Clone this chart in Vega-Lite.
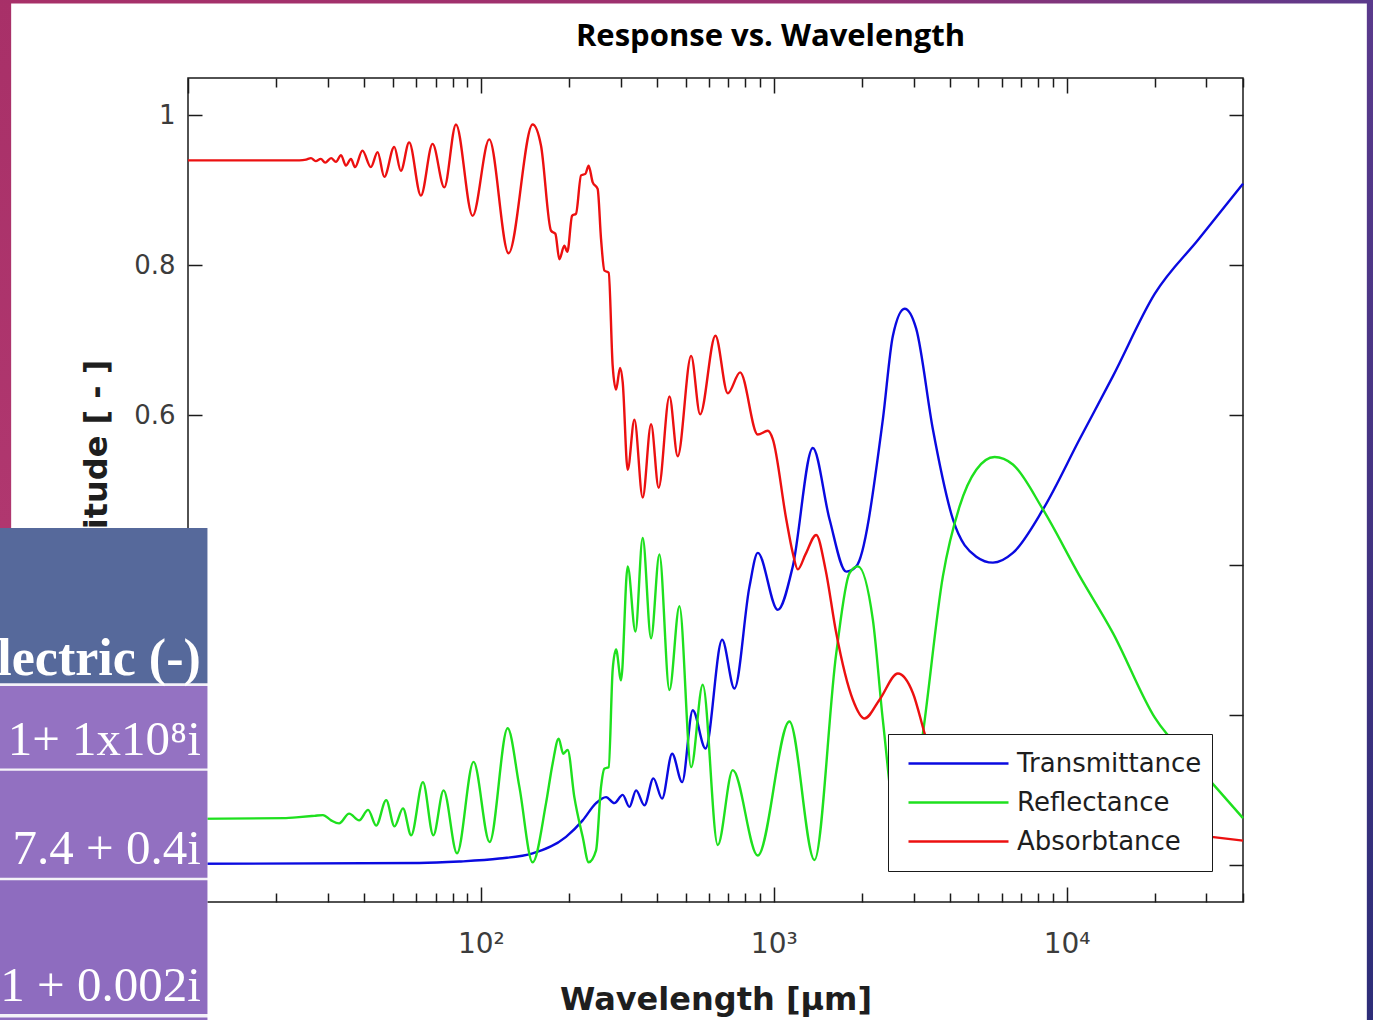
{
  "$schema": "https://vega.github.io/schema/vega-lite/v6.json",
  "width": 1055,
  "height": 824,
  "autosize": {"type": "none"},
  "padding": {"left": 188, "top": 78, "right": 130, "bottom": 118},
  "background": "white",
  "title": {
    "text": "Response vs. Wavelength",
    "font": "Open Sans",
    "fontSize": 31,
    "fontWeight": "bold",
    "color": "#000000",
    "anchor": "middle",
    "frame": "group",
    "dx": 55,
    "offset": 0,
    "baseline": "alphabetic",
    "dy": 78
  },
  "config": {
    "view": {"stroke": "#1a1a1a", "strokeWidth": 1.5},
    "axis": {
      "domain": false,
      "grid": false,
      "labelFont": "DejaVu Sans",
      "labelFontSize": 26,
      "labelColor": "#3c3c3c",
      "titleFont": "DejaVu Sans",
      "titleFontSize": 32,
      "titleFontWeight": "bold",
      "titleColor": "#1e1e1e",
      "tickColor": "#1a1a1a",
      "tickWidth": 1.5,
      "labelOverlap": false,
      "labelFlush": false
    }
  },
  "layer": [
    {
      "data": {"values": [
        {"series":"Transmittance","wavelength":10,"amplitude":0.001},
        {"series":"Transmittance","wavelength":61.6,"amplitude":0.002},
        {"series":"Transmittance","wavelength":84.4,"amplitude":0.004},
        {"series":"Transmittance","wavelength":115.6,"amplitude":0.008},
        {"series":"Transmittance","wavelength":150.2,"amplitude":0.015},
        {"series":"Transmittance","wavelength":195.3,"amplitude":0.037},
        {"series":"Transmittance","wavelength":222.6,"amplitude":0.059},
        {"series":"Transmittance","wavelength":247.3,"amplitude":0.082},
        {"series":"Transmittance","wavelength":267.5,"amplitude":0.090},
        {"series":"Transmittance","wavelength":285.6,"amplitude":0.082},
        {"series":"Transmittance","wavelength":304.9,"amplitude":0.093},
        {"series":"Transmittance","wavelength":321.4,"amplitude":0.077},
        {"series":"Transmittance","wavelength":338.8,"amplitude":0.099},
        {"series":"Transmittance","wavelength":361.7,"amplitude":0.079},
        {"series":"Transmittance","wavelength":388.2,"amplitude":0.115},
        {"series":"Transmittance","wavelength":415.6,"amplitude":0.088},
        {"series":"Transmittance","wavelength":449.7,"amplitude":0.148},
        {"series":"Transmittance","wavelength":486.6,"amplitude":0.110},
        {"series":"Transmittance","wavelength":528.8,"amplitude":0.206},
        {"series":"Transmittance","wavelength":584.5,"amplitude":0.155},
        {"series":"Transmittance","wavelength":666.3,"amplitude":0.300},
        {"series":"Transmittance","wavelength":734,"amplitude":0.235},
        {"series":"Transmittance","wavelength":826,"amplitude":0.371},
        {"series":"Transmittance","wavelength":881.8,"amplitude":0.416},
        {"series":"Transmittance","wavelength":1032,"amplitude":0.340},
        {"series":"Transmittance","wavelength":1161,"amplitude":0.398},
        {"series":"Transmittance","wavelength":1359,"amplitude":0.556},
        {"series":"Transmittance","wavelength":1550,"amplitude":0.461},
        {"series":"Transmittance","wavelength":1768,"amplitude":0.391},
        {"series":"Transmittance","wavelength":1912,"amplitude":0.398},
        {"series":"Transmittance","wavelength":2357,"amplitude":0.594},
        {"series":"Transmittance","wavelength":2551,"amplitude":0.706},
        {"series":"Transmittance","wavelength":2797,"amplitude":0.742},
        {"series":"Transmittance","wavelength":3065,"amplitude":0.715},
        {"series":"Transmittance","wavelength":3493,"amplitude":0.581},
        {"series":"Transmittance","wavelength":4088,"amplitude":0.461},
        {"series":"Transmittance","wavelength":4914,"amplitude":0.411},
        {"series":"Transmittance","wavelength":5600,"amplitude":0.403},
        {"series":"Transmittance","wavelength":6553,"amplitude":0.416},
        {"series":"Transmittance","wavelength":8299,"amplitude":0.474},
        {"series":"Transmittance","wavelength":11080,"amplitude":0.568},
        {"series":"Transmittance","wavelength":14390,"amplitude":0.652},
        {"series":"Transmittance","wavelength":20000,"amplitude":0.762},
        {"series":"Transmittance","wavelength":28250,"amplitude":0.835},
        {"series":"Transmittance","wavelength":40000,"amplitude":0.909},

        {"series":"Reflectance","wavelength":10,"amplitude":0.061},
        {"series":"Reflectance","wavelength":21.6,"amplitude":0.062},
        {"series":"Reflectance","wavelength":23.4,"amplitude":0.063},
        {"series":"Reflectance","wavelength":27,"amplitude":0.065},
        {"series":"Reflectance","wavelength":28.9,"amplitude":0.066},
        {"series":"Reflectance","wavelength":30.8,"amplitude":0.059},
        {"series":"Reflectance","wavelength":32.8,"amplitude":0.055},
        {"series":"Reflectance","wavelength":35.5,"amplitude":0.068},
        {"series":"Reflectance","wavelength":38.4,"amplitude":0.059},
        {"series":"Reflectance","wavelength":41.2,"amplitude":0.073},
        {"series":"Reflectance","wavelength":43.9,"amplitude":0.052},
        {"series":"Reflectance","wavelength":47.5,"amplitude":0.086},
        {"series":"Reflectance","wavelength":50.7,"amplitude":0.051},
        {"series":"Reflectance","wavelength":54.2,"amplitude":0.075},
        {"series":"Reflectance","wavelength":57.8,"amplitude":0.039},
        {"series":"Reflectance","wavelength":63.4,"amplitude":0.110},
        {"series":"Reflectance","wavelength":68.8,"amplitude":0.039},
        {"series":"Reflectance","wavelength":74.6,"amplitude":0.099},
        {"series":"Reflectance","wavelength":82.9,"amplitude":0.015},
        {"series":"Reflectance","wavelength":94.4,"amplitude":0.137},
        {"series":"Reflectance","wavelength":107.1,"amplitude":0.030},
        {"series":"Reflectance","wavelength":123.4,"amplitude":0.182},
        {"series":"Reflectance","wavelength":135.3,"amplitude":0.104},
        {"series":"Reflectance","wavelength":150.2,"amplitude":0.003},
        {"series":"Reflectance","wavelength":166.9,"amplitude":0.082},
        {"series":"Reflectance","wavelength":175.8,"amplitude":0.135},
        {"series":"Reflectance","wavelength":184.3,"amplitude":0.168},
        {"series":"Reflectance","wavelength":191.1,"amplitude":0.148},
        {"series":"Reflectance","wavelength":197.8,"amplitude":0.153},
        {"series":"Reflectance","wavelength":208.5,"amplitude":0.090},
        {"series":"Reflectance","wavelength":222.6,"amplitude":0.037},
        {"series":"Reflectance","wavelength":233.3,"amplitude":0.003},
        {"series":"Reflectance","wavelength":247.3,"amplitude":0.019},
        {"series":"Reflectance","wavelength":257.2,"amplitude":0.104},
        {"series":"Reflectance","wavelength":264,"amplitude":0.128},
        {"series":"Reflectance","wavelength":273.1,"amplitude":0.130},
        {"series":"Reflectance","wavelength":281.8,"amplitude":0.260},
        {"series":"Reflectance","wavelength":289.4,"amplitude":0.287},
        {"series":"Reflectance","wavelength":301,"amplitude":0.246},
        {"series":"Reflectance","wavelength":317.1,"amplitude":0.398},
        {"series":"Reflectance","wavelength":337,"amplitude":0.311},
        {"series":"Reflectance","wavelength":356.8,"amplitude":0.436},
        {"series":"Reflectance","wavelength":381.1,"amplitude":0.302},
        {"series":"Reflectance","wavelength":406.9,"amplitude":0.414},
        {"series":"Reflectance","wavelength":440.3,"amplitude":0.233},
        {"series":"Reflectance","wavelength":476.3,"amplitude":0.345},
        {"series":"Reflectance","wavelength":522.2,"amplitude":0.130},
        {"series":"Reflectance","wavelength":572.1,"amplitude":0.240},
        {"series":"Reflectance","wavelength":643.7,"amplitude":0.026},
        {"series":"Reflectance","wavelength":724.3,"amplitude":0.126},
        {"series":"Reflectance","wavelength":881.8,"amplitude":0.012},
        {"series":"Reflectance","wavelength":1131,"amplitude":0.191},
        {"series":"Reflectance","wavelength":1377,"amplitude":0.006},
        {"series":"Reflectance","wavelength":1634,"amplitude":0.282},
        {"series":"Reflectance","wavelength":1814,"amplitude":0.389},
        {"series":"Reflectance","wavelength":1936,"amplitude":0.398},
        {"series":"Reflectance","wavelength":2179,"amplitude":0.327},
        {"series":"Reflectance","wavelength":2357,"amplitude":0.193},
        {"series":"Reflectance","wavelength":2753,"amplitude":0.003},
        {"series":"Reflectance","wavelength":3230,"amplitude":0.175},
        {"series":"Reflectance","wavelength":3780,"amplitude":0.385},
        {"series":"Reflectance","wavelength":4309,"amplitude":0.478},
        {"series":"Reflectance","wavelength":4914,"amplitude":0.527},
        {"series":"Reflectance","wavelength":5675,"amplitude":0.544},
        {"series":"Reflectance","wavelength":6553,"amplitude":0.534},
        {"series":"Reflectance","wavelength":8299,"amplitude":0.474},
        {"series":"Reflectance","wavelength":11080,"amplitude":0.385},
        {"series":"Reflectance","wavelength":14390,"amplitude":0.309},
        {"series":"Reflectance","wavelength":20000,"amplitude":0.196},
        {"series":"Reflectance","wavelength":28250,"amplitude":0.129},
        {"series":"Reflectance","wavelength":40000,"amplitude":0.062},

        {"series":"Absorbtance","wavelength":10,"amplitude":0.940},
        {"series":"Absorbtance","wavelength":24,"amplitude":0.940},
        {"series":"Absorbtance","wavelength":25.3,"amplitude":0.941},
        {"series":"Absorbtance","wavelength":26.3,"amplitude":0.943},
        {"series":"Absorbtance","wavelength":27.3,"amplitude":0.939},
        {"series":"Absorbtance","wavelength":28.4,"amplitude":0.942},
        {"series":"Absorbtance","wavelength":29.4,"amplitude":0.937},
        {"series":"Absorbtance","wavelength":30.8,"amplitude":0.943},
        {"series":"Absorbtance","wavelength":32,"amplitude":0.938},
        {"series":"Absorbtance","wavelength":33.3,"amplitude":0.947},
        {"series":"Absorbtance","wavelength":34.6,"amplitude":0.933},
        {"series":"Absorbtance","wavelength":36,"amplitude":0.942},
        {"series":"Absorbtance","wavelength":37.2,"amplitude":0.931},
        {"series":"Absorbtance","wavelength":39.4,"amplitude":0.953},
        {"series":"Absorbtance","wavelength":42.1,"amplitude":0.931},
        {"series":"Absorbtance","wavelength":44.4,"amplitude":0.951},
        {"series":"Absorbtance","wavelength":46.8,"amplitude":0.918},
        {"series":"Absorbtance","wavelength":50.6,"amplitude":0.958},
        {"series":"Absorbtance","wavelength":53.3,"amplitude":0.926},
        {"series":"Absorbtance","wavelength":56.9,"amplitude":0.964},
        {"series":"Absorbtance","wavelength":62.4,"amplitude":0.893},
        {"series":"Absorbtance","wavelength":68.4,"amplitude":0.962},
        {"series":"Absorbtance","wavelength":75,"amplitude":0.904},
        {"series":"Absorbtance","wavelength":82.2,"amplitude":0.988},
        {"series":"Absorbtance","wavelength":93.7,"amplitude":0.866},
        {"series":"Absorbtance","wavelength":106.8,"amplitude":0.968},
        {"series":"Absorbtance","wavelength":124.3,"amplitude":0.816},
        {"series":"Absorbtance","wavelength":150.2,"amplitude":0.988},
        {"series":"Absorbtance","wavelength":160.4,"amplitude":0.960},
        {"series":"Absorbtance","wavelength":173.6,"amplitude":0.846},
        {"series":"Absorbtance","wavelength":179.6,"amplitude":0.842},
        {"series":"Absorbtance","wavelength":185.3,"amplitude":0.808},
        {"series":"Absorbtance","wavelength":192.7,"amplitude":0.826},
        {"series":"Absorbtance","wavelength":197.4,"amplitude":0.818},
        {"series":"Absorbtance","wavelength":204.8,"amplitude":0.866},
        {"series":"Absorbtance","wavelength":211.3,"amplitude":0.869},
        {"series":"Absorbtance","wavelength":219.8,"amplitude":0.920},
        {"series":"Absorbtance","wavelength":227.4,"amplitude":0.922},
        {"series":"Absorbtance","wavelength":233.3,"amplitude":0.933},
        {"series":"Absorbtance","wavelength":240.7,"amplitude":0.911},
        {"series":"Absorbtance","wavelength":250.4,"amplitude":0.902},
        {"series":"Absorbtance","wavelength":257.2,"amplitude":0.835},
        {"series":"Absorbtance","wavelength":264,"amplitude":0.793},
        {"series":"Absorbtance","wavelength":273.1,"amplitude":0.790},
        {"series":"Absorbtance","wavelength":281.8,"amplitude":0.666},
        {"series":"Absorbtance","wavelength":289.4,"amplitude":0.634},
        {"series":"Absorbtance","wavelength":298.7,"amplitude":0.663},
        {"series":"Absorbtance","wavelength":304.9,"amplitude":0.644},
        {"series":"Absorbtance","wavelength":317.1,"amplitude":0.527},
        {"series":"Absorbtance","wavelength":334.3,"amplitude":0.594},
        {"series":"Absorbtance","wavelength":356.8,"amplitude":0.490},
        {"series":"Absorbtance","wavelength":381.1,"amplitude":0.588},
        {"series":"Absorbtance","wavelength":404.6,"amplitude":0.503},
        {"series":"Absorbtance","wavelength":440.3,"amplitude":0.625},
        {"series":"Absorbtance","wavelength":469.9,"amplitude":0.545},
        {"series":"Absorbtance","wavelength":522.2,"amplitude":0.679},
        {"series":"Absorbtance","wavelength":560.4,"amplitude":0.601},
        {"series":"Absorbtance","wavelength":632.1,"amplitude":0.706},
        {"series":"Absorbtance","wavelength":696.5,"amplitude":0.629},
        {"series":"Absorbtance","wavelength":767.7,"amplitude":0.657},
        {"series":"Absorbtance","wavelength":881.8,"amplitude":0.574},
        {"series":"Absorbtance","wavelength":953.9,"amplitude":0.579},
        {"series":"Absorbtance","wavelength":992.2,"amplitude":0.568},
        {"series":"Absorbtance","wavelength":1103,"amplitude":0.461},
        {"series":"Absorbtance","wavelength":1161,"amplitude":0.416},
        {"series":"Absorbtance","wavelength":1208,"amplitude":0.394},
        {"series":"Absorbtance","wavelength":1283,"amplitude":0.414},
        {"series":"Absorbtance","wavelength":1396,"amplitude":0.440},
        {"series":"Absorbtance","wavelength":1502,"amplitude":0.394},
        {"series":"Absorbtance","wavelength":1634,"amplitude":0.309},
        {"series":"Absorbtance","wavelength":1862,"amplitude":0.220},
        {"series":"Absorbtance","wavelength":2041,"amplitude":0.195},
        {"series":"Absorbtance","wavelength":2297,"amplitude":0.220},
        {"series":"Absorbtance","wavelength":2653,"amplitude":0.255},
        {"series":"Absorbtance","wavelength":2985,"amplitude":0.229},
        {"series":"Absorbtance","wavelength":3273,"amplitude":0.175},
        {"series":"Absorbtance","wavelength":3780,"amplitude":0.090},
        {"series":"Absorbtance","wavelength":5600,"amplitude":0.055},
        {"series":"Absorbtance","wavelength":11080,"amplitude":0.048},
        {"series":"Absorbtance","wavelength":20000,"amplitude":0.046},
        {"series":"Absorbtance","wavelength":28250,"amplitude":0.039},
        {"series":"Absorbtance","wavelength":40000,"amplitude":0.032}
      ]},
      "mark": {"type": "line", "strokeWidth": 2.4, "interpolate": "monotone"},
      "encoding": {
        "x": {
          "field": "wavelength",
          "type": "quantitative",
          "scale": {"type": "log", "domain": [10, 40000], "nice": false},
          "axis": {
            "orient": "bottom",
            "values": [10,20,30,40,50,60,70,80,90,100,200,300,400,500,600,700,800,900,1000,2000,3000,4000,5000,6000,7000,8000,9000,10000,20000,30000,40000],
            "labelExpr": "datum.value == 100 ? '10²' : datum.value == 1000 ? '10³' : datum.value == 10000 ? '10⁴' : ''",
            "tickSize": {"condition": {"test": "datum.value == 10 || datum.value == 100 || datum.value == 1000 || datum.value == 10000", "value": -15}, "value": -9},
            "labelPadding": 43,
            "labelFontSize": 28,
            "title": "Wavelength [μm]",
            "titlePadding": 20
          }
        },
        "y": {
          "field": "amplitude",
          "type": "quantitative",
          "scale": {"domain": [-0.05, 1.05], "nice": false, "zero": false},
          "axis": {
            "orient": "left",
            "values": [0, 0.2, 0.4, 0.6, 0.8, 1],
            "format": "~g",
            "tickSize": -14,
            "labelPadding": 27,
            "title": "Amplitude [ - ]",
            "titlePadding": 20
          }
        },
        "color": {
          "field": "series",
          "type": "nominal",
          "scale": {"domain": ["Transmittance", "Reflectance", "Absorbtance"], "range": ["#0a0ae0", "#1ee01e", "#ec1010"]},
          "legend": {
            "orient": "bottom-right",
            "offset": 31,
            "title": null,
            "symbolType": "stroke",
            "symbolSize": 10000,
            "symbolStrokeWidth": 2.4,
            "clipHeight": 39,
            "labelFont": "DejaVu Sans",
            "labelFontSize": 26,
            "labelColor": "#1e1e1e",
            "padding": 10,
            "symbolOffset": 9,
            "labelOffset": 7,
            "strokeColor": "#1a1a1a",
            "fillColor": "white",
            "rowPadding": 0,
            "labelLimit": 0
          }
        }
      }
    },
    {
      "data": {"values": [{"wavelength": 100, "amplitude": 0.5}]},
      "mark": {"type": "point", "opacity": 0},
      "encoding": {
        "x": {
          "field": "wavelength",
          "type": "quantitative",
          "scale": {"type": "log", "domain": [10, 40000], "nice": false},
          "axis": {
            "orient": "top",
            "values": [10,20,30,40,50,60,70,80,90,100,200,300,400,500,600,700,800,900,1000,2000,3000,4000,5000,6000,7000,8000,9000,10000,20000,30000,40000],
            "labels": false,
            "tickSize": {"condition": {"test": "datum.value == 10 || datum.value == 100 || datum.value == 1000 || datum.value == 10000", "value": -15}, "value": -9},
            "title": null
          }
        },
        "y": {
          "field": "amplitude",
          "type": "quantitative",
          "scale": {"domain": [-0.05, 1.05], "nice": false, "zero": false},
          "axis": {
            "orient": "right",
            "values": [0, 0.2, 0.4, 0.6, 0.8, 1],
            "labels": false,
            "tickSize": -14,
            "title": null
          }
        }
      }
    },
    {
      "data": {"values": [{"part": "slide left edge"}]},
      "mark": {"type": "rect", "fill": {"gradient": "linear", "x1": 0, "y1": 0, "x2": 0, "y2": 1, "stops": [{"offset": 0, "color": "#a83068"}, {"offset": 1, "color": "#b0376f"}]}},
      "encoding": {
        "x": {"datum": 2.0, "axis": null},
        "x2": {"datum": 2.49},
        "y": {"datum": 1.156, "axis": null},
        "y2": {"datum": 0.449}
      }
    },
    {
      "data": {"values": [{"part": "slide top edge"}]},
      "mark": {"type": "rect", "fill": {"gradient": "linear", "x1": 0, "y1": 0, "x2": 1, "y2": 0, "stops": [{"offset": 0, "color": "#a83068"}, {"offset": 0.6, "color": "#9a3070"}, {"offset": 1, "color": "#5a3a8c"}]}},
      "encoding": {
        "x": {"datum": 2.0, "axis": null},
        "x2": {"datum": 120000},
        "y": {"datum": 1.156, "axis": null},
        "y2": {"datum": 1.1494}
      }
    },
    {
      "data": {"values": [{"part": "slide right edge"}]},
      "mark": {"type": "rect", "fill": {"gradient": "linear", "x1": 0, "y1": 0, "x2": 0, "y2": 1, "stops": [{"offset": 0, "color": "#5a3a8c"}, {"offset": 1, "color": "#2c2d78"}]}},
      "encoding": {
        "x": {"datum": 105900, "axis": null},
        "x2": {"datum": 120000},
        "y": {"datum": 1.156, "axis": null},
        "y2": {"datum": -0.25}
      }
    },
    {
      "data": {"values": [{"part": "table background"}]},
      "mark": {"type": "rect", "fill": "#f4f2f8"},
      "encoding": {
        "x": {"datum": 2.0, "axis": null},
        "x2": {"datum": 11.65},
        "y": {"datum": 0.4494, "axis": null},
        "y2": {"datum": -0.25}
      }
    },
    {
      "data": {"values": [{"part": "header cell"}]},
      "mark": {"type": "rect", "fill": "#56699b"},
      "encoding": {
        "x": {"datum": 2.0, "axis": null},
        "x2": {"datum": 11.65},
        "y": {"datum": 0.4494, "axis": null},
        "y2": {"datum": 0.242}
      }
    },
    {
      "data": {"values": [{"part": "row 1"}]},
      "mark": {"type": "rect", "fill": "#9472c2"},
      "encoding": {
        "x": {"datum": 2.0, "axis": null},
        "x2": {"datum": 11.65},
        "y": {"datum": 0.2384, "axis": null},
        "y2": {"datum": 0.1283}
      }
    },
    {
      "data": {"values": [{"part": "row 2"}]},
      "mark": {"type": "rect", "fill": "#9270c1"},
      "encoding": {
        "x": {"datum": 2.0, "axis": null},
        "x2": {"datum": 11.65},
        "y": {"datum": 0.1251, "axis": null},
        "y2": {"datum": -0.0175}
      }
    },
    {
      "data": {"values": [{"part": "row 3"}]},
      "mark": {"type": "rect", "fill": "#8e6cbf"},
      "encoding": {
        "x": {"datum": 2.0, "axis": null},
        "x2": {"datum": 11.65},
        "y": {"datum": -0.0211, "axis": null},
        "y2": {"datum": -0.1995}
      }
    },
    {
      "data": {"values": [{"part": "row 4"}]},
      "mark": {"type": "rect", "fill": "#8e6cbf"},
      "encoding": {
        "x": {"datum": 2.0, "axis": null},
        "x2": {"datum": 11.65},
        "y": {"datum": -0.2041, "axis": null},
        "y2": {"datum": -0.25}
      }
    },
    {
      "data": {"values": [{"label": "lectric (-)"}]},
      "mark": {"type": "text", "font": "Liberation Serif", "fontSize": 52, "fontWeight": "bold", "fill": "white", "align": "right", "baseline": "alphabetic"},
      "encoding": {
        "x": {"datum": 11.06, "axis": null},
        "y": {"datum": 0.2531, "axis": null},
        "text": {"field": "label"}
      }
    },
    {
      "data": {"values": [{"label": "1+ 1x10⁸i"}]},
      "mark": {"type": "text", "font": "Liberation Serif", "fontSize": 49, "fill": "white", "align": "right", "baseline": "alphabetic"},
      "encoding": {
        "x": {"datum": 11.06, "axis": null},
        "y": {"datum": 0.1461, "axis": null},
        "text": {"field": "label"}
      }
    },
    {
      "data": {"values": [{"label": "7.4 + 0.4i"}]},
      "mark": {"type": "text", "font": "Liberation Serif", "fontSize": 49, "fill": "white", "align": "right", "baseline": "alphabetic"},
      "encoding": {
        "x": {"datum": 11.06, "axis": null},
        "y": {"datum": 0.0012, "axis": null},
        "text": {"field": "label"}
      }
    },
    {
      "data": {"values": [{"label": "1 + 0.002i"}]},
      "mark": {"type": "text", "font": "Liberation Serif", "fontSize": 49, "fill": "white", "align": "right", "baseline": "alphabetic"},
      "encoding": {
        "x": {"datum": 11.06, "axis": null},
        "y": {"datum": -0.1817, "axis": null},
        "text": {"field": "label"}
      }
    }
  ]
}
